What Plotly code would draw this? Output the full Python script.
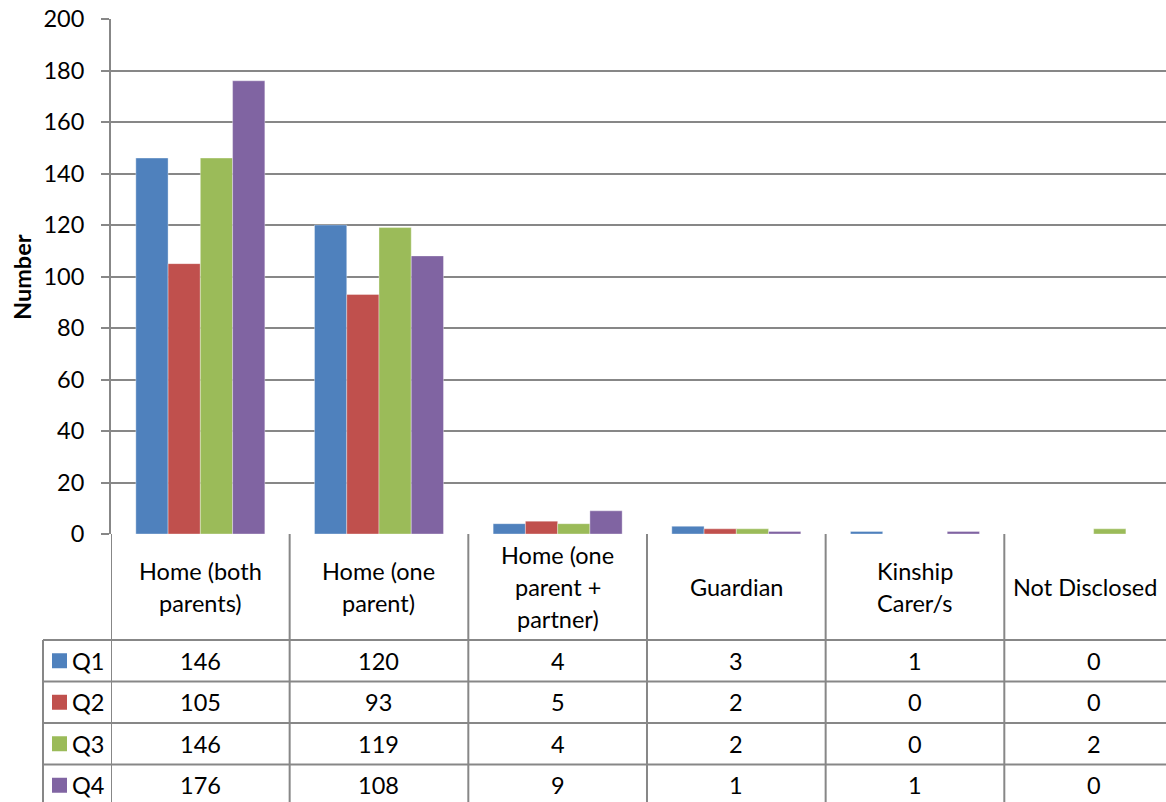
import plotly.graph_objects as go

categories = ["Home (both<br>parents)", "Home (one<br>parent)", "Home (one<br>parent +<br>partner)",
              "Guardian", "Kinship<br>Carer/s", "Not Disclosed"]
series_names = ["Q1", "Q2", "Q3", "Q4"]
q1 = [146, 120, 4, 3, 1, 0]
q2 = [105, 93, 5, 2, 0, 0]
q3 = [146, 119, 4, 2, 0, 2]
q4 = [176, 108, 9, 1, 1, 0]
series_values = [q1, q2, q3, q4]
colors = ["#4F81BD", "#C0504D", "#9BBB59", "#8064A2"]
y_ticks = list(range(0, 201, 20))

W, H = 1166, 802
ML, MT, MB = 111, 19, 268
PLOT_W = W - ML
PLOT_H = H - MT - MB
X_RANGE = [-0.5, 5.405]
FONT = "Lato, 'Open Sans', sans-serif"
FS = 23.5
GRID = "#878787"
LINE_SP = 32

# table geometry (pixels)
AXIS_Y = MT + PLOT_H          # y of value 0
HEADER_H = 106
ROW_H = 41.5
LEGEND_LEFT = 43


def py(px):
    return (AXIS_Y - px) / PLOT_H


def pxx(px):
    return (px - ML) / PLOT_W


x_idx = list(range(len(categories)))

fig = go.Figure()
for name, vals, col in zip(series_names, series_values, colors):
    fig.add_trace(go.Bar(
        x=x_idx, y=vals, name=name,
        marker=dict(color=col, line=dict(color="rgba(255,255,255,0.35)", width=1)),
        showlegend=False,
    ))

shapes = []
annotations = []

# vertical table lines at category boundaries
for k in range(len(categories) + 1):
    shapes.append(dict(type="line", xref="x", yref="paper",
                       x0=k - 0.5, x1=k - 0.5, y0=py(AXIS_Y), y1=py(H + 10),
                       line=dict(color=GRID, width=2)))
# legend column left border
shapes.append(dict(type="line", xref="paper", yref="paper",
                   x0=pxx(LEGEND_LEFT), x1=pxx(LEGEND_LEFT),
                   y0=py(AXIS_Y + HEADER_H), y1=py(H + 10),
                   line=dict(color=GRID, width=2)))
# horizontal row lines
for r in range(len(series_names) + 1):
    yy = AXIS_Y + HEADER_H + r * ROW_H
    shapes.append(dict(type="line", xref="paper", yref="paper",
                       x0=pxx(LEGEND_LEFT), x1=1.0, y0=py(yy), y1=py(yy),
                       line=dict(color=GRID, width=2)))

# category header labels (one annotation per line for Excel-like line spacing)
for i, c in enumerate(categories):
    lines = c.split("<br>")
    n = len(lines)
    # last column is cut off: centre its header in the visible part
    cx = i if i < len(categories) - 1 else (i - 0.5 + X_RANGE[1]) / 2
    for j, ln in enumerate(lines):
        cy = AXIS_Y + HEADER_H / 2 + (j - (n - 1) / 2) * LINE_SP
        annotations.append(dict(x=cx, y=py(cy), xref="x", yref="paper",
                                text=ln, showarrow=False, xanchor="center", yanchor="middle",
                                font=dict(family=FONT, size=FS, color="black")))

# data rows
for r, (name, vals, col) in enumerate(zip(series_names, series_values, colors)):
    cy = AXIS_Y + HEADER_H + r * ROW_H + ROW_H / 2
    shapes.append(dict(type="rect", xref="paper", yref="paper",
                       x0=pxx(52), x1=pxx(67), y0=py(cy - 7.5), y1=py(cy + 7.5),
                       fillcolor=col, line=dict(width=0)))
    annotations.append(dict(x=pxx(70), y=py(cy), xref="paper", yref="paper",
                            text=name, showarrow=False, xanchor="left", yanchor="middle",
                            font=dict(family=FONT, size=FS, color="black")))
    for i, v in enumerate(vals):
        annotations.append(dict(x=i, y=py(cy), xref="x", yref="paper",
                                text=str(v), showarrow=False, xanchor="center", yanchor="middle",
                                font=dict(family=FONT, size=FS, color="black")))

# y axis title
annotations.append(dict(x=pxx(22), y=py(277), xref="paper", yref="paper",
                        text="<b>Number</b>", textangle=-90, showarrow=False,
                        xanchor="center", yanchor="middle",
                        font=dict(family=FONT, size=FS, color="black")))

fig.update_layout(
    width=W, height=H,
    margin=dict(l=ML, r=0, t=MT, b=MB, pad=0),
    paper_bgcolor="white", plot_bgcolor="white",
    barmode="group", bargap=0.278, bargroupgap=0,
    shapes=shapes, annotations=annotations,
    xaxis=dict(range=X_RANGE, showticklabels=False, showgrid=False, zeroline=False,
               showline=False, ticks="", fixedrange=True),
    yaxis=dict(range=[0, 200], tickvals=y_ticks, showgrid=True, gridcolor=GRID, gridwidth=1.5,
               zeroline=False, showline=True, linecolor=GRID, linewidth=2,
               ticks="outside", ticklen=8, tickcolor=GRID, tickwidth=1.5,
               ticklabelstandoff=12,
               tickfont=dict(family=FONT, size=FS, color="black"), fixedrange=True),
)

fig.write_html("out.html")
